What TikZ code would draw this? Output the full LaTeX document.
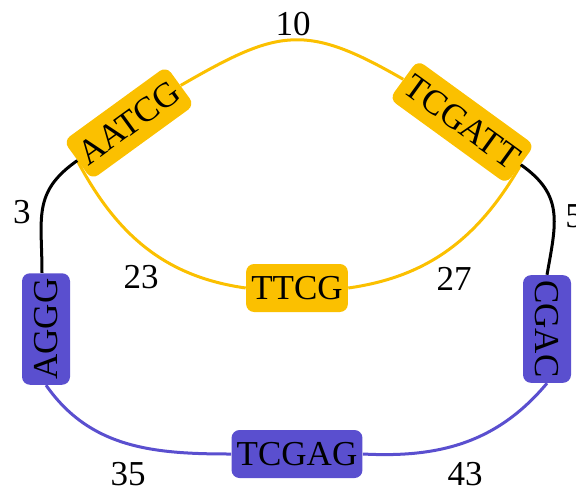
\documentclass[tikz,border=0pt]{standalone}
\usepackage{fontspec}
\setmainfont{Liberation Serif}
\usepackage{tikz}
\definecolor{seqyellow}{RGB}{251,192,0}
\definecolor{seqblue}{RGB}{90,79,207}

\begin{document}
\begin{tikzpicture}[x=0.5pt, y=-0.5pt,
	seq/.style={rounded corners=4pt, inner xsep=2.6pt, inner ysep=0pt, minimum height=24pt, font=\fontsize{17.5}{21}\selectfont},
	ylwseq/.style={seq, fill=seqyellow},
	blueseq/.style={seq, fill=seqblue},
	num/.style={font=\fontsize{17.5}{21}\selectfont},
	ylw/.style={seqyellow, line width=1.5pt},
	blk/.style={black, line width=1.5pt},
	blu/.style={seqblue, line width=1.5pt}]
						\useasboundingbox (0, 0) rectangle (576, 486);
						\node[ylwseq, rotate=36] (aatcg) at (129, 123) {AATCG};
						\node[ylwseq, rotate=-36] (tcgatt) at (462, 122) {TCGATT};
						\node[ylwseq] (ttcg) at (297, 288) {TTCG};
						\node[blueseq, rotate=90] (aggg) at (46, 329) {AGGG};
						\node[blueseq, rotate=-90] (cgac) at (547, 329) {CGAC};
						\node[blueseq] (tcgag) at (297, 454) {TCGAG};
						\node[num] (l10) at (293, 24) {10};
						\node[num] (l3) at (22, 212) {3};
						\node[num] (l5) at (574, 216) {5};
						\node[num] (l23) at (141, 277) {23};
						\node[num] (l27) at (454, 279) {27};
						\node[num] (l35) at (128, 474) {35};
						\node[num] (l43) at (465, 474) {43};
						\draw[ylw] (aatcg.east) to[out=30, in=150, looseness=1.3] (tcgatt.west);
						\draw[ylw] (aatcg.west) to[out=-62, in=172] (ttcg.west);
						\draw[ylw] (ttcg.east) to[out=8, in=240] (tcgatt.east);
						\draw[blk] (aatcg.west) to[out=215, in=90, looseness=1.2] ([xshift=-2pt]aggg.east);
						\draw[blk] (tcgatt.east) to[out=-35, in=80, looseness=1.2] (cgac.west);
						\draw[blu] (aggg.west) to[out=-55, in=180] (tcgag.west);
						\draw[blu] (tcgag.east) to[out=-3, in=-130] (cgac.east);
					\end{tikzpicture}
\end{document}
